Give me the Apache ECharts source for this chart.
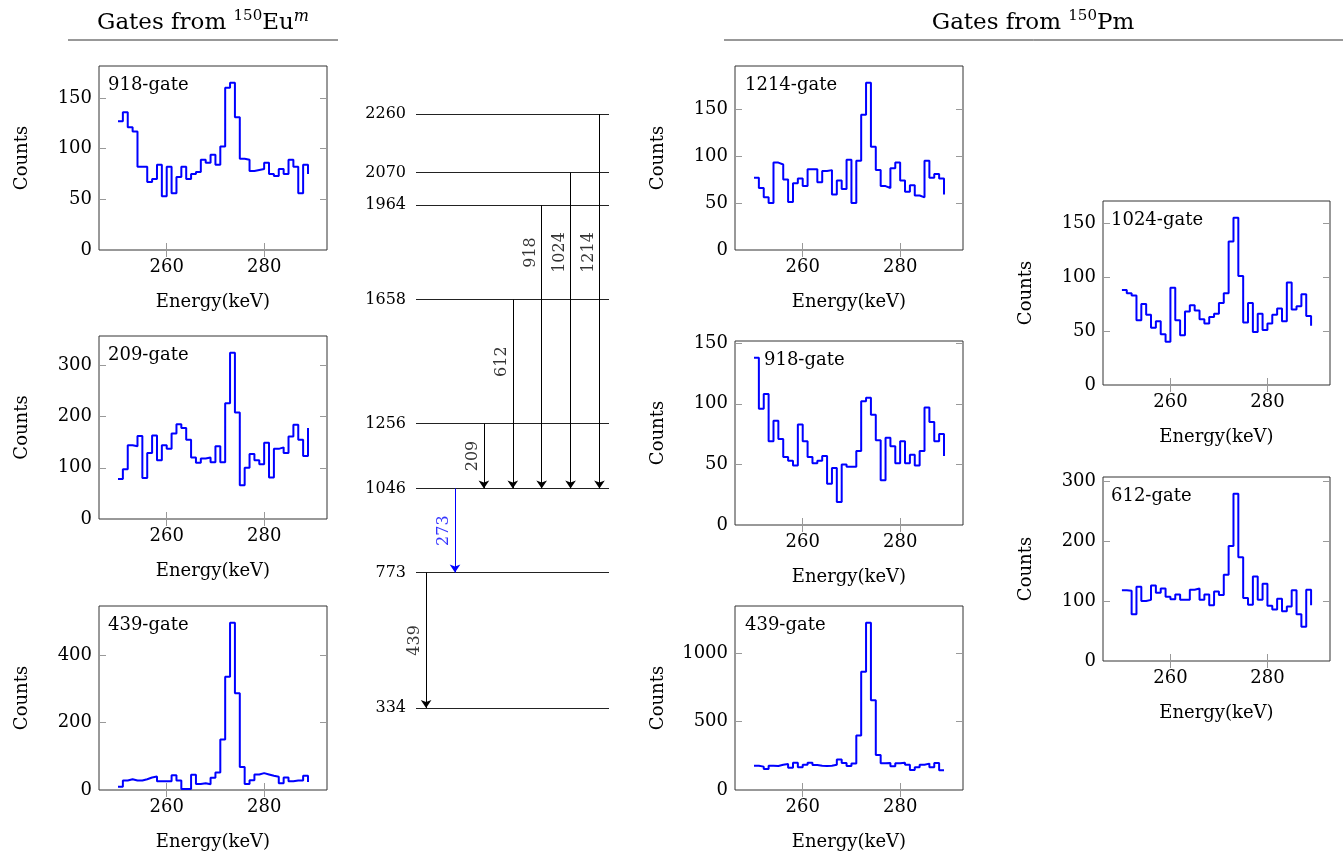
<!DOCTYPE html>
<html>
<head>
<meta charset="utf-8" />
<title>Gates</title>
<script src="https://cdn.jsdelivr.net/npm/echarts@6/dist/echarts.min.js"></script>
<style>body{margin:0;background:#fff;}</style>
</head>
<body>
<div id="main" style="width:1343px;height:856px;"></div>
<script type="text/javascript">
// bins (keV)
var energy = [250, 251, 252, 253, 254, 255, 256, 257, 258, 259, 260, 261, 262, 263, 264, 265, 266, 267, 268, 269,
              270, 271, 272, 273, 274, 275, 276, 277, 278, 279, 280, 281, 282, 283, 284, 285, 286, 287, 288, 289];

// gates from 150Eu^m
var euGate918 = [127, 136, 121, 117, 82, 82, 67, 70, 84, 53, 82, 56, 72, 82, 70, 75, 77, 89, 86, 94,
                 84, 102, 160, 165, 131, 90, 89, 78, 79, 80, 86, 75, 73, 80, 75, 89, 82, 56, 84, 75];
var euGate209 = [78, 97, 144, 142, 162, 80, 129, 163, 115, 144, 137, 167, 185, 178, 155, 120, 110, 118, 120, 111,
                 142, 111, 226, 325, 208, 66, 100, 127, 115, 107, 149, 81, 137, 140, 129, 161, 184, 155, 123, 178];
var euGate439 = [10, 28, 32, 28, 28, 32, 37, 40, 26, 26, 26, 44, 28, 3, 3, 45, 18, 20, 17, 36,
                 52, 150, 336, 496, 287, 68, 18, 29, 46, 50, 46, 42, 39, 20, 37, 26, 28, 28, 42, 24];

// gates from 150Pm
var pmGate1214 = [77, 66, 56, 50, 93, 91, 75, 51, 71, 76, 68, 86, 86, 72, 84, 85, 59, 74, 65, 96,
                  50, 95, 144, 178, 110, 85, 68, 66, 87, 93, 74, 62, 69, 58, 56, 95, 77, 81, 76, 59];
var pmGate918 = [138, 96, 108, 69, 86, 71, 56, 53, 49, 83, 69, 56, 51, 53, 57, 34, 47, 19, 50, 48,
                 48, 61, 102, 105, 91, 70, 37, 72, 65, 51, 69, 51, 58, 49, 61, 97, 85, 69, 75, 57];
var pmGate439 = [178, 171, 154, 178, 176, 185, 190, 163, 200, 166, 185, 200, 183, 178, 176, 178, 185, 224, 198, 176,
                 193, 398, 866, 1224, 656, 256, 195, 198, 173, 195, 200, 185, 146, 166, 185, 193, 166, 198, 144, 144];
var pmGate1024 = [88, 85, 83, 60, 75, 65, 53, 59, 47, 40, 90, 60, 46, 68, 74, 69, 61, 57, 63, 66,
                  76, 85, 133, 155, 101, 58, 76, 49, 66, 51, 57, 65, 71, 59, 95, 70, 73, 84, 64, 55];
var pmGate612 = [118, 117, 78, 124, 100, 102, 126, 114, 121, 107, 103, 111, 102, 102, 119, 121, 102, 111, 93, 116,
                 110, 144, 192, 279, 173, 105, 94, 141, 102, 129, 92, 86, 104, 83, 91, 118, 78, 57, 119, 93];

// tick labels
var energyTicks = [260, 280];
var ticks150 = [0, 50, 100, 150];
var ticks300 = [0, 100, 200, 300];
var ticks400 = [0, 200, 400];
var ticks1000 = [0, 500, 1000];

// level scheme
var levels = [2260, 2070, 1964, 1658, 1256, 1046, 773, 334];
var gammaE = [439, 273, 209, 612, 918, 1024, 1214];
var gammaFrom = [773, 1046, 1256, 1658, 1964, 2070, 2260];
var gammaTo = [334, 773, 1046, 1046, 1046, 1046, 1046];
var gammaLabelAt = [553, 909, 1151, 1457, 1811, 1811, 1811];
var gammaLane = [0, 1, 2, 3, 4, 5, 6];
var gammaColor = ['#000', '#0000ff', '#000', '#000', '#000', '#000', '#000'];

var font = 'DejaVu Serif';
var myChart = echarts.init(document.getElementById('main'));

var panels = [
	{name: '918-gate', data: euGate918, ticks: ticks150, left: 99, top: 66, width: 228, height: 184, dx: 9},
	{name: '209-gate', data: euGate209, ticks: ticks300, left: 99, top: 336, width: 228, height: 183, dx: 9},
	{name: '439-gate', data: euGate439, ticks: ticks400, left: 99, top: 606, width: 228, height: 184, dx: 9},
	{name: '1214-gate', data: pmGate1214, ticks: ticks150, left: 735, top: 66, width: 228, height: 184, dx: 10},
	{name: '918-gate', data: pmGate918, ticks: ticks150, left: 735, top: 341, width: 228, height: 184, dx: 29},
	{name: '439-gate', data: pmGate439, ticks: ticks1000, left: 735, top: 606, width: 228, height: 184, dx: 10},
	{name: '1024-gate', data: pmGate1024, ticks: ticks150, left: 1103, top: 201, width: 227, height: 184, dx: 8},
	{name: '612-gate', data: pmGate612, ticks: ticks300, left: 1103, top: 477, width: 227, height: 184, dx: 8}
];

var txt = {fontFamily: font, fontSize: 18, color: '#000'};
var tickStyle = {color: '#999', width: 1};
var plain = function(v) { return String(v); };
var grid = [], xAxis = [], yAxis = [], series = [], title = [];

panels.forEach(function(p, i) {
	var ymax = Math.max.apply(null, p.data) * 1.1;
	grid.push({left: p.left, top: p.top, width: p.width, height: p.height, show: true,
		borderColor: '#333', borderWidth: 1, backgroundColor: 'transparent', outerBoundsMode: 'none'});
	xAxis.push({gridIndex: i, type: 'value', min: 246.1, max: 292.9, position: 'bottom',
		name: 'Energy(keV)', nameLocation: 'middle', nameGap: 43, nameMoveOverlap: false, nameTextStyle: txt,
		axisLine: {show: false},
		axisTick: {inside: true, length: 7, customValues: energyTicks, lineStyle: tickStyle},
		axisLabel: {customValues: energyTicks, margin: 8, formatter: plain, fontFamily: font, fontSize: 18, color: '#000'},
		splitLine: {show: false}});
	xAxis.push({gridIndex: i, type: 'value', min: 246.1, max: 292.9, position: 'top',
		axisLine: {show: false},
		axisTick: {inside: true, length: 7, customValues: energyTicks, lineStyle: tickStyle},
		axisLabel: {show: false, customValues: energyTicks}, splitLine: {show: false}});
	yAxis.push({gridIndex: i, type: 'value', min: 0, max: ymax, position: 'left',
		name: 'Counts', nameLocation: 'middle', nameGap: 68, nameRotate: 90, nameMoveOverlap: false, nameTextStyle: txt,
		axisLine: {show: false},
		axisTick: {inside: true, length: 7, customValues: p.ticks, lineStyle: tickStyle},
		axisLabel: {customValues: p.ticks, margin: 7, formatter: plain, fontFamily: font, fontSize: 18, color: '#000'},
		splitLine: {show: false}});
	yAxis.push({gridIndex: i, type: 'value', min: 0, max: ymax, position: 'right',
		axisLine: {show: false},
		axisTick: {inside: true, length: 7, customValues: p.ticks, lineStyle: tickStyle},
		axisLabel: {show: false, customValues: p.ticks}, splitLine: {show: false}});
	series.push({type: 'line', xAxisIndex: 2 * i, yAxisIndex: 2 * i, step: 'end', showSymbol: false,
		silent: true, lineStyle: {color: '#0000ff', width: 2}, z: 3,
		data: energy.map(function(e, k) { return [e, p.data[k]]; })});
	title.push({text: p.name, left: p.left + p.dx, top: p.top + 10, padding: 0,
		textStyle: {fontFamily: font, fontSize: 18, fontWeight: 'normal', color: '#000'}});
});

// level scheme grid
grid.push({left: 416, top: 114, width: 193, height: 594, show: false, outerBoundsMode: 'none'});
xAxis.push({gridIndex: 8, type: 'value', min: -0.35, max: 6.33, show: false});
yAxis.push({gridIndex: 8, type: 'value', min: 334, max: 2260, show: false});

series.push({type: 'line', xAxisIndex: 16, yAxisIndex: 16, data: [],
	markLine: {silent: true, animation: false, symbol: ['none', 'none'],
		lineStyle: {color: '#222', width: 1, type: 'solid'},
		label: {position: 'start', distance: 10, fontFamily: font, fontSize: 16, color: '#000',
			formatter: function(p) { return p.value; }},
		data: levels.map(function(e) { return {yAxis: e}; })}});

series.push({type: 'line', xAxisIndex: 16, yAxisIndex: 16, data: [],
	markLine: {silent: true, animation: false, symbol: ['none', 'arrow'], symbolSize: 8,
		label: {show: false},
		data: gammaE.map(function(g, i) {
			return [{coord: [gammaLane[i], gammaFrom[i]], lineStyle: {color: gammaColor[i], width: 1, type: 'solid'}},
			        {coord: [gammaLane[i], gammaTo[i]]}];
		})}});

series.push({type: 'scatter', xAxisIndex: 16, yAxisIndex: 16, symbolSize: 0, silent: true,
	label: {show: true, position: 'inside', formatter: '{b}', rotate: 90, offset: [0, -11],
		fontFamily: font, fontSize: 16},
	data: gammaE.map(function(g, i) {
		return {name: String(g), value: [gammaLane[i], gammaLabelAt[i]], label: {color: gammaColor[i]}};
	})});

var sup = {fontFamily: font, fontSize: 15, verticalAlign: 'top', lineHeight: 15, fill: '#000'};
var option = {
	animation: false,
	backgroundColor: '#fff',
	title: title,
	grid: grid,
	xAxis: xAxis,
	yAxis: yAxis,
	series: series,
	graphic: [
		{type: 'text', x: 203, y: 23, silent: true,
			style: {text: '{a|Gates from }{s|150}{a|Eu}{m|m}', align: 'center', verticalAlign: 'middle',
				rich: {a: {fontFamily: font, fontSize: 23, lineHeight: 28, fill: '#000'}, s: sup,
					m: {fontFamily: font, fontSize: 16, fontStyle: 'italic', verticalAlign: 'top', lineHeight: 15, fill: '#000'}}}},
		{type: 'text', x: 1033, y: 23, silent: true,
			style: {text: '{a|Gates from }{s|150}{a|Pm}', align: 'center', verticalAlign: 'middle',
				rich: {a: {fontFamily: font, fontSize: 23, lineHeight: 28, fill: '#000'}, s: sup}}},
		{type: 'line', silent: true, shape: {x1: 68, y1: 40, x2: 338, y2: 40}, style: {stroke: '#333', lineWidth: 1}},
		{type: 'line', silent: true, shape: {x1: 724, y1: 40, x2: 1343, y2: 40}, style: {stroke: '#333', lineWidth: 1}}
	]
};
myChart.setOption(option);
</script>
</body>
</html>
